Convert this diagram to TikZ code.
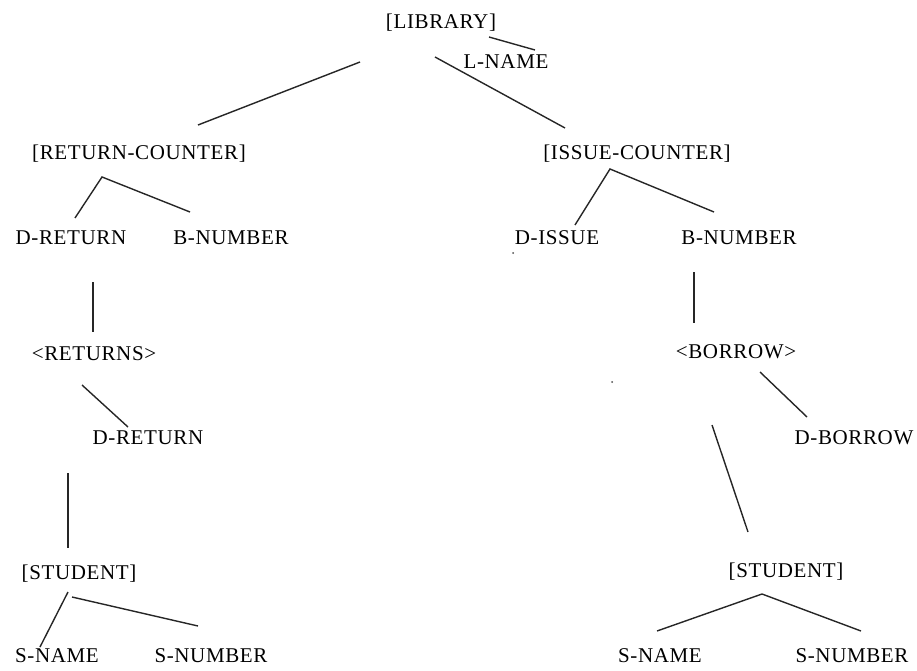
\documentclass[tikz,border=0pt]{standalone}
\usepackage{fontspec}
\setmainfont[LetterSpace=3]{Liberation Serif}
\begin{document}
\begin{tikzpicture}[x=1pt,y=-1pt,
  lbl/.style={inner sep=0pt,anchor=center,text height=14pt,text depth=0pt,
              font=\fontsize{21}{25}\selectfont},
  link/.style={line width=1.4pt,draw=black!85}]
\useasboundingbox (0,0) rectangle (917,671);
% entity and attribute labels
\node[lbl] (lib)   at (441,22)  {[LIBRARY]};
\node[lbl] (lname) at (506,62)  {L-NAME};
\node[lbl] (rc)    at (139,153) {[RETURN-COUNTER]};
\node[lbl] (ic)    at (637,153) {[ISSUE-COUNTER]};
\node[lbl] (dret)  at (71,237)  {D-RETURN};
\node[lbl] (bnl)   at (231,237) {B-NUMBER};
\node[lbl] (diss)  at (557,237) {D-ISSUE};
\node[lbl] (bnr)   at (739,237) {B-NUMBER};
\node[lbl] (rets)  at (94,353)  {<RETURNS>};
\node[lbl] (bor)   at (736,351) {<BORROW>};
\node[lbl] (dret2) at (148,437) {D-RETURN};
\node[lbl] (dbor)  at (854,437) {D-BORROW};
\node[lbl] (stl)   at (79,572)  {[STUDENT]};
\node[lbl] (str)   at (786,570) {[STUDENT]};
\node[lbl] (snl)   at (57,655)  {S-NAME};
\node[lbl] (snul)  at (211,655) {S-NUMBER};
\node[lbl] (snr)   at (660,655) {S-NAME};
\node[lbl] (snur)  at (852,655) {S-NUMBER};
% line end points
\coordinate (lib-ln) at (489,37);   \coordinate (ln-t)   at (535,50);
\coordinate (lib-l)  at (360,62);   \coordinate (rc-t)   at (198,125);
\coordinate (lib-r)  at (435,57);   \coordinate (ic-t)   at (565,128);
\coordinate (rc-f)   at (102,177);  \coordinate (dret-t) at (75,218);
\coordinate (bnl-t)  at (190,212);
\coordinate (ic-f)   at (610,169);  \coordinate (diss-t) at (575,225);
\coordinate (bnr-t)  at (714,212);
\coordinate (dret-b) at (93,282);   \coordinate (rets-t) at (93,332);
\coordinate (rets-b) at (82,385);   \coordinate (dret2-t) at (128,427);
\coordinate (bnr-b)  at (694,272);  \coordinate (bor-t)  at (694,323);
\coordinate (bor-b)  at (760,372);  \coordinate (dbor-t) at (807,417);
\coordinate (bor-l)  at (712,425);  \coordinate (str-t)  at (748,532);
\coordinate (dret2-b) at (68,473);  \coordinate (stl-t)  at (68,548);
\coordinate (stl-f)  at (68,592);   \coordinate (snl-t)  at (40,647);
\coordinate (stl-g)  at (72,597);   \coordinate (snul-t) at (198,626);
\coordinate (str-f)  at (762,594);  \coordinate (snr-t)  at (657,631);
\coordinate (snur-t) at (861,631);
% connectors
\draw[link] (lib-ln) -- (ln-t);
\draw[link] (lib-l) -- (rc-t);
\draw[link] (lib-r) -- (ic-t);
\draw[link] (dret-t) -- (rc-f) -- (bnl-t);
\draw[link] (diss-t) -- (ic-f) -- (bnr-t);
\draw[link] (dret-b) -- (rets-t);
\draw[link] (rets-b) -- (dret2-t);
\draw[link] (bnr-b) -- (bor-t);
\draw[link] (bor-b) -- (dbor-t);
\draw[link] (bor-l) -- (str-t);
\draw[link] (dret2-b) -- (stl-t);
\draw[link] (snl-t) -- (stl-f);
\draw[link] (stl-g) -- (snul-t);
\draw[link] (snr-t) -- (str-f) -- (snur-t);
% stray specks
\fill[black!70] (513,253) circle (1);
\fill[black!70] (612,382) circle (1);
\end{tikzpicture}
\end{document}
